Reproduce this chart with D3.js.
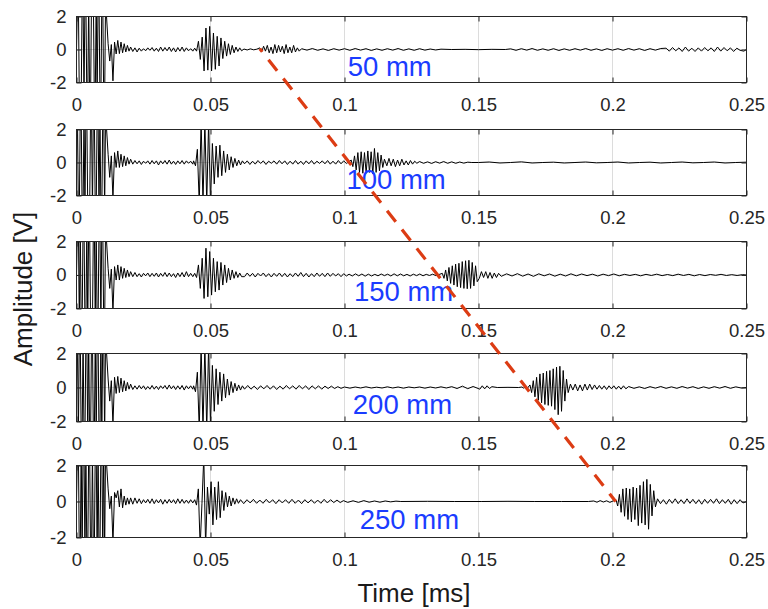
<!DOCTYPE html>
<html><head><meta charset="utf-8">
<script src="https://cdn.jsdelivr.net/npm/d3@7"></script>
<style>
body{margin:0;background:#fff}
text{font-family:"Liberation Sans",Arial,Helvetica,sans-serif}
</style>
</head><body>
<svg id="chart" width="768" height="609"></svg>
<script>
// ---------------- DATA ----------------
const xTicks = [0, 0.05, 0.1, 0.15, 0.2, 0.25];
const yTicks = [-2, 0, 2];
const distanceLabels = ["50 mm", "100 mm", "150 mm", "200 mm", "250 mm"];
const labelTimes = [0.1012, 0.1007, 0.1035, 0.1031, 0.1057];
const labelAmp = -1;
const xTitle = "Time [ms]";
const yTitle = "Amplitude [V]";
// arrival line: [time, amplitude] in the first and last panel
const arrivalStart = [0.0684, 0.05];
const arrivalEnd = [0.2012, 0];

// each trace: segments [startTime(ms), step(ms), amplitudes(V)]
const trace50 = [
  [0, 0.00035, [0,3,3,-3,-3,-3,3,3,-3,3,3,-3,-3,3,-3,-3,3,3,3,-3,-3,3,-3,3,3,-3,-3,3,3,-3,-3,3]],
  [0.0118, 0.0006, [0.35,-0.7,0.3,-1.9,0.45,-0.27,0.55,-0.25,0.45,-0.2,0.35,-0.15,0.25,-0.1,0.15]],
  [0.021, 0.0008, [-0.12,0.1,-0.15,0.08,-0.1,0.05,-0.08,0.1,-0.05,0.12,-0.1,0.08,-0.12,0.15,-0.1,0.12,-0.08,0.15,-0.12,0.1,-0.15,0.12,-0.1,0.15,-0.12,0.1,-0.08,0.05,-0.1]],
  [0.0441, 0.0007, [0.08,-0.1,0.5,-0.6,0.75,-1.3,1.3,-1.25,1.4,-1.3,1.0,-1.2,0.8,-1.0,0.7,-0.55,0.5,-0.4,0.35,-0.3,0.25,-0.2,0.15,-0.12,0.1,-0.08]],
  [0.0625, 0.0012, [0.03,-0.03,0.04,-0.02,0.02]],
  [0.0684, 0.0007, [0.1,-0.15,0.2,-0.1,0.25,-0.2,0.15,-0.25,0.3,-0.2,0.25,-0.15,0.2,-0.25,0.3,-0.2,0.15,-0.2,0.25,-0.15,0.1,-0.1]],
  [0.084, 0.002, [0.05,-0.04,0.06,-0.05,0.04,-0.06,0.05,-0.04,0.05,-0.05,0.06,-0.04,0.05,-0.06,0.04,-0.05,0.05,-0.04,0.06,-0.05,0.04,-0.05,0.05,-0.04,0.03,-0.03,0.02]],
  [0.14, 0.005, [0,0.01,-0.01,0.01,0]],
  [0.162, 0.002, [0.04,-0.05,0.05,-0.04,0.06,-0.05,0.04,-0.05,0.05,-0.06,0.04,-0.05,0.05,-0.04,0.06,-0.05,0.04,-0.06,0.05,-0.04,0.05,-0.05,0.06,-0.04,0.05,-0.06,0.05,-0.04,0.06]],
  [0.22, 0.0012, [0.08,-0.1,0.12,-0.08,0.1,-0.12,0.15,-0.1,0.08,-0.12,0.1,-0.1,0.12,-0.08,0.1,-0.12,0.15,-0.1,0.12,-0.08,0.1,-0.12,0.08,-0.05]],
  [0.249, 0.001, [-0.1,0]]
];
const trace100 = [
  [0, 0.00035, [0,3,-3,-3,3,3,-3,-3,3,-3,3,3,-3,-3,-3,3,3,-3,3,3,-3,-3,3,3,-3,3,-3,-3,3,3,-3,3]],
  [0.0118, 0.0006, [0.5,-0.9,0.4,-2.2,0.6,-0.3,0.7,-0.3,0.5,-0.25,0.4,-0.2,0.3,-0.1,0.2]],
  [0.021, 0.0008, [-0.1,0.12,-0.08,0.1,-0.12,0.08,-0.05,0.1,-0.1,0.12,-0.08,0.1,-0.15,0.1,-0.08,0.12,-0.1,0.15,-0.1,0.08,-0.12,0.1,-0.08,0.12,-0.1,0.1,-0.05,0.08,-0.1]],
  [0.0437, 0.0007, [0.1,-0.2,0.8,-2.5,2.5,-2.5,2.5,-2.5,2.5,-2.5,1.15,-1.3,1.0,-0.9,1.05,-0.8,0.7,-0.6,0.5,-0.45,0.35,-0.3,0.25,-0.2,0.15,-0.15,0.1]],
  [0.0627, 0.001, [-0.08,0.1,-0.12,0.08,-0.1,0.12,-0.06,0.1,-0.12,0.08,-0.05,0.1,-0.1,0.12,-0.08,0.1,-0.12,0.08,-0.1,0.12,-0.1,0.08,-0.12,0.1,-0.08,0.12,-0.1,0.08,-0.06,0.1,-0.08,0.12,-0.1,0.08,-0.1,0.12,-0.08,0.1,-0.06,0.05]],
  [0.1025, 0.00062, [0.15,-0.25,0.4,-0.45,0.6,-0.6,0.65,-0.65,0.6,-0.65,0.7,-0.6,0.65,-0.7,0.85,-0.6,0.6,-0.5,0.45,-0.3,0.2]],
  [0.1158, 0.0008, [-0.2,0.25,-0.2,0.2,-0.25,0.15,-0.2,0.2,-0.15,0.1,-0.15,0.12,-0.1,0.08,-0.05]],
  [0.128, 0.0015, [0.06,-0.05,0.04,-0.06,0.05,-0.04,0.06,-0.05,0.04,-0.05,0.03,-0.04,0.02,0]],
  [0.15, 0.004, [0,0.03,-0.03,0,0.04,-0.03,0,0.02,-0.03,0,0.03,-0.02,0,0.03,-0.03,0,0.02,-0.03,0,0.03,-0.02,0,0.03,-0.03,0,0.02]]
];
const trace150 = [
  [0, 0.00035, [0,3,3,-3,3,-3,-3,3,3,-3,-3,3,-3,3,3,-3,-3,-3,3,3,-3,3,-3,-3,3,3,-3,3,3,-3,-3,3]],
  [0.0118, 0.0006, [0.4,-0.8,0.35,-2.2,0.5,-0.3,0.6,-0.3,0.5,-0.2,0.4,-0.15,0.3,-0.1,0.2]],
  [0.021, 0.0008, [-0.1,0.15,-0.1,0.08,-0.12,0.1,-0.05,0.12,-0.1,0.1,-0.08,0.12,-0.12,0.1,-0.08,0.15,-0.1,0.12,-0.1,0.08,-0.15,0.12,-0.1,0.15,-0.12,0.2,-0.1,0.1,-0.1]],
  [0.0441, 0.0007, [0.1,-0.15,0.6,-0.8,1.0,-1.4,1.6,-1.3,1.4,-1.2,1.0,-1.0,0.8,-0.9,0.75,-0.6,0.6,-0.45,0.4,-0.3,0.3,-0.2,0.2,-0.15,0.12,-0.1]],
  [0.0627, 0.001, [-0.1,0.12,-0.08,0.1,-0.12,0.1,-0.06,0.12,-0.1,0.08,-0.12,0.1,-0.08,0.12,-0.1,0.1,-0.12,0.08,-0.1,0.12,-0.08,0.15,-0.1,0.1,-0.12,0.08,-0.1,0.12,-0.08,0.1,-0.1,0.12,-0.08,0.1,-0.06,0.08,-0.1,0.08,-0.06]],
  [0.1017, 0.0012, [0.05,-0.06,0.07,-0.05,0.06,-0.07,0.05,-0.06,0.04,-0.05,0.06,-0.04,0.05,-0.06,0.07,-0.05,0.06,-0.05,0.04,-0.06,0.05,-0.04,0.06,-0.05,0.04,-0.03,0.05,-0.04,0.03]],
  [0.1365, 0.00062, [0.1,-0.2,0.3,-0.35,0.45,-0.5,0.55,-0.6,0.65,-0.7,0.7,-0.75,0.8,-0.8,0.85,-0.82,0.88,-0.8,0.75,-0.65,0.55,-0.4]],
  [0.1503, 0.0008, [-0.2,0.2,-0.15,0.2,-0.2,0.15,-0.2,0.12,-0.15,0.1]],
  [0.1585, 0.002, [-0.08,0.07,-0.06,0.08,-0.07,0.06,-0.08,0.07,-0.05,0.06,-0.07,0.05,-0.06,0.07,-0.05,0.06,-0.04,0.05,-0.06,0.05,-0.04,0.06,-0.05,0.04,-0.03,0.04,-0.05,0.04,-0.03,0.05,-0.04,0.03,-0.04,0.05,-0.03,0.04,-0.05,0.03,-0.04,0.03,-0.02,0.04,-0.03,0.02,-0.03,0.02]]
];
const trace200 = [
  [0, 0.00035, [0,3,-3,3,3,-3,-3,3,-3,-3,3,3,-3,3,-3,-3,3,3,-3,-3,3,-3,3,3,-3,-3,3,-3,3,3,-3,3]],
  [0.0118, 0.0006, [0.5,-0.8,0.4,-2.2,0.6,-0.35,0.65,-0.3,0.55,-0.25,0.4,-0.2,0.3,-0.1,0.2]],
  [0.021, 0.0008, [-0.12,0.1,-0.1,0.12,-0.08,0.1,-0.12,0.06,-0.1,0.12,-0.1,0.08,-0.12,0.1,-0.06,0.12,-0.1,0.15,-0.08,0.1,-0.12,0.1,-0.1,0.12,-0.15,0.1,-0.08,0.1,-0.1]],
  [0.0437, 0.0007, [0.1,-0.25,0.9,-2.5,2.5,-2.5,2.5,-2.5,2.5,-2.2,1.3,-1.4,1.1,-1.0,0.9,-0.8,0.8,-0.6,0.5,-0.45,0.35,-0.3,0.25,-0.2,0.15,-0.15,0.1]],
  [0.0627, 0.0012, [-0.1,0.12,-0.1,0.08,-0.12,0.1,-0.08,0.12,-0.1,0.1,-0.12,0.08,-0.1,0.12,-0.08,0.1,-0.1,0.12,-0.08,0.1,-0.12,0.1,-0.08,0.1,-0.1,0.08,-0.06,0.08,-0.06,0.05,-0.05]],
  [0.1, 0.002, [0.03,-0.04,0.03,-0.03,0.04,-0.03,0.02,-0.03,0.04,-0.03,0.03,-0.04,0.03,-0.02,0.03,-0.04,0.03,-0.03,0.04,-0.03,0.05,-0.06,0.08,-0.07,0.06]],
  [0.1505, 0.0009, [-0.1,0.1,-0.08,0.1,-0.06,0.05]],
  [0.157, 0.004, [0,0.01,0]],
  [0.1662, 0.0007, [0.03,-0.04,0.05,-0.03]],
  [0.1692, 0.00062, [0.15,-0.3,0.4,-0.55,0.6,-0.75,0.8,-0.9,0.85,-1.0,0.95,-1.05,1.0,-1.1,1.1,-1.3,1.2,-1.6,1.25,-1.4,1.0,-0.8,0.5,-0.3]],
  [0.1843, 0.0009, [0.2,-0.15,0.2,-0.2,0.15,-0.2,0.2,-0.15,0.2,-0.12,0.15,-0.1,0.12,-0.1,0.1,-0.12,0.1,-0.08,0.1,-0.1,0.08,-0.1,0.1,-0.08]],
  [0.206, 0.002, [0.06,-0.05,0.04,-0.06,0.05,-0.04,0.06,-0.05,0.04,-0.05,0.06,-0.04,0.05,-0.06,0.04,-0.05,0.05,-0.04,0.06,-0.05,0.04,-0.03]]
];
const trace250 = [
  [0, 0.00035, [0,3,3,-3,-3,3,-3,3,3,-3,3,-3,-3,3,3,-3,-3,3,-3,-3,3,3,-3,3,-3,-3,3,3,-3,3,-3,3]],
  [0.0118, 0.0006, [0.7,-0.4,0.3,-2.3,0.5,0.2,0.6,-0.3,0.7,-0.35,0.3,-0.2,0.2,-0.15,0.2]],
  [0.021, 0.0008, [-0.15,0.2,-0.1,0.15,-0.12,0.1,-0.08,0.12,-0.1,0.15,-0.12,0.1,-0.08,0.12,-0.15,0.1,-0.1,0.12,-0.08,0.1,-0.12,0.15,-0.1,0.12,-0.1,0.08,-0.1,0.1,-0.08]],
  [0.0441, 0.00068, [0.1,-0.2,0.7,-2.5,-0.1,2.5,-2.5,0.8,-0.7,1.1,-1.3,0.8,-1.0,1.1,-0.9,0.6,-0.5,0.5,-0.3,0.3,-0.25,0.2,-0.15,0.15,-0.1]],
  [0.0612, 0.0012, [0.1,-0.12,0.1,-0.08,0.12,-0.1,0.08,-0.1,0.12,-0.08,0.1,-0.12,0.1,-0.08,0.1,-0.1,0.12,-0.1,0.08,-0.12,0.1,-0.08,0.1,-0.1,0.08,-0.1,0.12,-0.08,0.1,-0.06,0.08,-0.06,0.05]],
  [0.1012, 0.002, [-0.05,0.04,-0.05,0.05,-0.04,0.03,-0.04,0.03,-0.02,0.02]],
  [0.121, 0.01, [0,0.01,0,0,0.01,0,0,0]],
  [0.193, 0.0012, [0.03,-0.04,0.05,-0.03,0.04,-0.05,0.03]],
  [0.2013, 0.00064, [0.1,-0.25,0.4,-0.6,0.7,-0.82,0.75,-1.0,0.7,-1.13,0.8,-1.0,0.75,-1.34,0.9,-1.2,1.1,-1.3,1.23,-1.54,0.95,-0.8,0.6,-0.3]],
  [0.2168, 0.0011, [0.15,-0.12,0.1,-0.15,0.12,-0.1,0.15,-0.12,0.1,-0.12,0.15,-0.1,0.12,-0.12,0.1,-0.15,0.12,-0.1,0.12,-0.1,0.15,-0.12,0.1,-0.1,0.12,-0.15,0.1,-0.12,0.1,-0.08]]
];
const traces = [trace50, trace100, trace150, trace200, trace250];

// ---------------- LAYOUT ----------------
const W = 768, H = 609;
const left = 76.5, right = 746.5;
const panelTop = [16.5, 129.5, 241.5, 353.5, 465.5];
const panelBottom = [82.5, 195.5, 308.5, 421.5, 537.5];
const axisColor = "#262626";

const svg = d3.select("#chart");
svg.append("rect").attr("width", W).attr("height", H).attr("fill", "#fff");
const x = d3.scaleLinear().domain([0, 0.25]).range([left, right]);

function expand(segs) {
  const pts = [];
  segs.forEach(([t0, dt, vals]) => vals.forEach((v, i) => pts.push([t0 + i * dt, v])));
  pts.sort((a, b) => a[0] - b[0]);
  if (pts[pts.length - 1][0] < 0.25) pts.push([0.25, 0]);
  return pts;
}

const yScales = [];
traces.forEach((segs, i) => {
  const y = d3.scaleLinear().domain([-2, 2]).range([panelBottom[i], panelTop[i]]);
  yScales.push(y);
  const g = svg.append("g");
  const cid = "clip" + i;
  svg.append("clipPath").attr("id", cid).append("rect")
    .attr("x", left).attr("y", panelTop[i])
    .attr("width", right - left).attr("height", panelBottom[i] - panelTop[i]);

  // grid
  g.selectAll(".gx").data(xTicks.slice(1, -1)).join("line")
    .attr("x1", d => x(d)).attr("x2", d => x(d))
    .attr("y1", panelTop[i]).attr("y2", panelBottom[i])
    .attr("stroke", "#dcdcdc").attr("stroke-width", 1);
  g.append("line").attr("x1", left).attr("x2", right)
    .attr("y1", y(0)).attr("y2", y(0)).attr("stroke", "#dcdcdc");

  // trace
  const line = d3.line().x(d => x(d[0])).y(d => y(d[1]));
  g.append("path").datum(expand(segs))
    .attr("clip-path", `url(#${cid})`)
    .attr("fill", "none").attr("stroke", "#000").attr("stroke-width", 1)
    .attr("stroke-linejoin", "round")
    .attr("d", line);

  // axes
  const fmt = d => String(d);
  const ax = (gen, tx, ty, labels) => {
    const a = g.append("g").attr("transform", `translate(${tx},${ty})`).call(gen);
    a.select(".domain").remove();
    a.selectAll("line").attr("stroke", axisColor);
    a.selectAll("text").attr("fill", axisColor).style("font-size", "18.5px");
    if (!labels) a.selectAll("text").remove();
    return a;
  };
  ax(d3.axisBottom(x).tickValues(xTicks).tickFormat(fmt).tickSizeInner(-5).tickSizeOuter(0).tickPadding(15), 0, panelBottom[i], true);
  ax(d3.axisTop(x).tickValues(xTicks).tickSizeInner(-5).tickSizeOuter(0), 0, panelTop[i], false);
  ax(d3.axisLeft(y).tickValues(yTicks).tickFormat(fmt).tickSizeInner(-5).tickSizeOuter(0).tickPadding(10), left, 0, true);
  ax(d3.axisRight(y).tickValues(yTicks).tickSizeInner(-5).tickSizeOuter(0), right, 0, false);

  g.append("rect").attr("x", left).attr("y", panelTop[i])
    .attr("width", right - left).attr("height", panelBottom[i] - panelTop[i])
    .attr("fill", "none").attr("stroke", axisColor).attr("stroke-width", 1);

  // distance label
  g.append("text").attr("x", x(labelTimes[i])).attr("y", y(labelAmp))
    .attr("dominant-baseline", "central")
    .attr("fill", "#1a3cff").style("font-size", "27.5px")
    .text(distanceLabels[i]);
});

// titles
svg.append("text").attr("x", 414).attr("y", 602).attr("text-anchor", "middle")
  .attr("fill", "#1a1a1a").style("font-size", "26px").text(xTitle);
svg.append("text").attr("transform", "translate(32,289) rotate(-90)").attr("text-anchor", "middle")
  .attr("fill", "#1a1a1a").style("font-size", "26px").text(yTitle);

// arrival dashed line
svg.append("line")
  .attr("x1", x(arrivalStart[0])).attr("y1", yScales[0](arrivalStart[1]))
  .attr("x2", x(arrivalEnd[0])).attr("y2", yScales[4](arrivalEnd[1]))
  .attr("stroke", "#dc3c14").attr("stroke-width", 3.2)
  .attr("stroke-dasharray", "14 10").attr("stroke-dashoffset", 10);
</script>
</body></html>
